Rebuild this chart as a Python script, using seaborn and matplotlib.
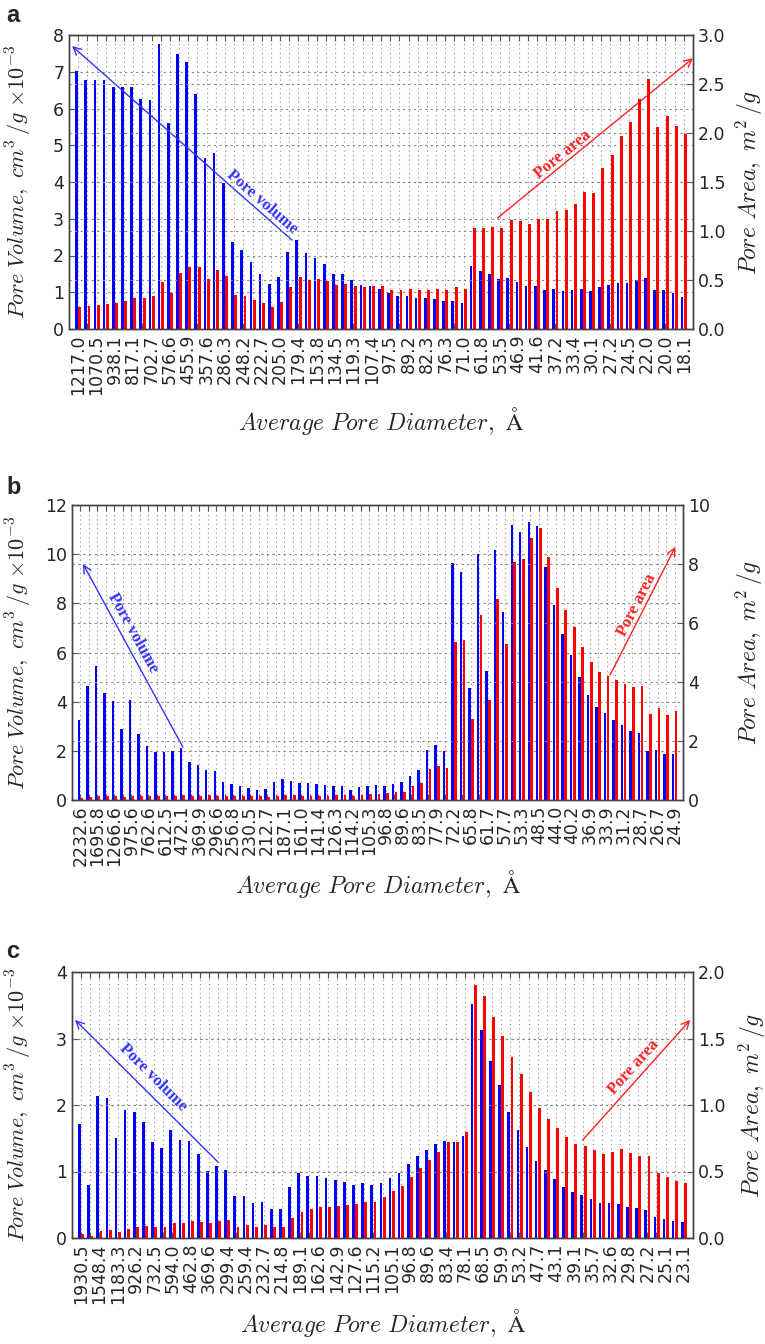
import numpy as np
import pandas as pd
import matplotlib
matplotlib.use("Agg")
import matplotlib.pyplot as plt
import seaborn as sns

# ---------------- data ----------------
a_labels = ["1217.0", "1070.5", "938.1", "817.1", "702.7", "576.6", "455.9", "357.6", "286.3",
            "248.2", "222.7", "205.0", "179.4", "153.8", "134.5", "119.3", "107.4", "97.5",
            "89.2", "82.3", "76.3", "71.0", "61.8", "53.5", "46.9", "41.6", "37.2", "33.4",
            "30.1", "27.2", "24.5", "22.0", "20.0", "18.1"]
a_volume = [7.03, 6.78, 6.78, 6.78, 6.58, 6.58, 6.58, 6.27, 6.23, 7.75, 5.61, 7.49, 7.27, 6.39,
            4.65, 4.78, 3.96, 2.36, 2.16, 1.81, 1.49, 1.22, 1.42, 2.10, 2.42, 2.07, 1.93, 1.77,
            1.51, 1.49, 1.32, 1.19, 1.17, 1.10,
            0.97, 0.91, 0.91, 0.85, 0.85, 0.81, 0.77, 0.77, 0.72, 1.71, 1.59, 1.49, 1.36, 1.40,
            1.27, 1.17, 1.17, 1.06, 1.10, 1.03, 1.06, 1.10, 1.03, 1.13, 1.20, 1.26, 1.26, 1.32,
            1.39, 1.06, 1.06, 0.97, 0.88]
a_area = [0.22, 0.23, 0.245, 0.26, 0.27, 0.29, 0.32, 0.32, 0.34, 0.48, 0.37, 0.57, 0.63, 0.63,
          0.51, 0.60, 0.54, 0.35, 0.34, 0.30, 0.27, 0.22, 0.28, 0.43, 0.53, 0.50, 0.51, 0.49,
          0.45, 0.46, 0.44, 0.43, 0.44, 0.435,
          0.40, 0.40, 0.41, 0.40, 0.40, 0.41, 0.40, 0.425, 0.41, 1.03, 1.03, 1.04, 1.03, 1.11,
          1.10, 1.07, 1.12, 1.12, 1.20, 1.21, 1.28, 1.40, 1.39, 1.64, 1.78, 1.97, 2.11, 2.35,
          2.55, 2.06, 2.17, 2.07, 1.99]

b_labels = ["2232.6", "1695.8", "1266.6", "975.6", "762.6", "612.5", "472.1", "369.9", "296.6",
            "256.8", "230.5", "212.7", "187.1", "161.0", "141.4", "126.3", "114.2", "105.3",
            "96.8", "89.6", "83.5", "77.9", "72.2", "65.8", "61.7", "57.7", "53.3", "48.5",
            "44.0", "40.2", "36.9", "33.9", "31.2", "28.7", "26.7", "24.9"]
b_volume = [3.25, 4.64, 5.46, 4.35, 4.03, 2.87, 4.08, 2.67, 2.20, 1.97, 1.94, 1.99, 2.13, 1.56,
            1.42, 1.23, 1.18, 0.75, 0.65, 0.56, 0.50, 0.41, 0.46, 0.73, 0.84, 0.79, 0.71, 0.69,
            0.65, 0.61, 0.57, 0.56, 0.41, 0.54, 0.57, 0.61,
            0.58, 0.65, 0.75, 0.99, 1.22, 2.05, 2.24, 1.99, 9.65, 9.27, 4.54, 9.99, 5.26, 10.18,
            7.66, 11.20, 10.90, 11.29, 11.16, 9.49, 7.92, 6.75, 5.90, 5.02, 4.28, 3.78, 3.54,
            3.25, 3.05, 2.82, 2.71, 1.99, 2.05, 1.86, 1.86]
b_area = [0.08, 0.10, 0.12, 0.12, 0.12, 0.11, 0.14, 0.13, 0.12, 0.13, 0.12, 0.14, 0.16, 0.15,
          0.15, 0.16, 0.15, 0.14, 0.13, 0.13, 0.12, 0.12, 0.11, 0.15, 0.16, 0.16, 0.15, 0.15,
          0.15, 0.15, 0.16, 0.16, 0.14, 0.17, 0.19, 0.20,
          0.23, 0.28, 0.28, 0.47, 0.59, 1.04, 1.15, 1.07, 5.36, 5.42, 2.74, 6.28, 3.40, 6.83,
          5.30, 8.06, 8.18, 8.87, 9.22, 8.24, 7.20, 6.43, 5.87, 5.19, 4.68, 4.35, 4.22, 4.06,
          3.93, 3.83, 3.86, 2.93, 3.13, 2.88, 3.01]

c_labels = ["1930.5", "1548.4", "1183.3", "926.2", "732.5", "594.0", "462.8", "369.6", "299.4",
            "259.4", "232.7", "214.8", "189.1", "162.6", "142.9", "127.6", "115.2", "105.1",
            "96.8", "89.6", "83.4", "78.1", "68.5", "59.9", "53.2", "47.7", "43.1", "39.1",
            "35.7", "32.6", "29.8", "27.2", "25.1", "23.1"]
c_volume = [1.71, 0.80, 2.13, 2.10, 1.50, 1.93, 1.89, 1.75, 1.45, 1.35, 1.62, 1.48, 1.46, 1.26,
            1.01, 1.09, 1.03, 0.63, 0.63, 0.53, 0.54, 0.43, 0.43, 0.76, 0.97, 0.93, 0.93, 0.90,
            0.87, 0.84, 0.80, 0.83, 0.79, 0.83, 0.90,
            0.97, 1.11, 1.24, 1.32, 1.42, 1.46, 1.45, 1.54, 3.52, 3.13, 2.66, 2.30, 1.90, 1.63,
            1.37, 1.16, 1.02, 0.89, 0.77, 0.69, 0.64, 0.58, 0.53, 0.53, 0.51, 0.47, 0.45, 0.42,
            0.32, 0.29, 0.26, 0.24]
c_area = [0.03, 0.013, 0.05, 0.06, 0.045, 0.07, 0.08, 0.09, 0.08, 0.08, 0.11, 0.11, 0.125,
          0.12, 0.11, 0.125, 0.135, 0.085, 0.095, 0.085, 0.095, 0.08, 0.08, 0.15, 0.195, 0.215,
          0.23, 0.23, 0.24, 0.25, 0.255, 0.27, 0.27,
          0.31, 0.35, 0.39, 0.46, 0.53, 0.59, 0.65, 0.72, 0.72, 0.80, 1.90, 1.82, 1.66, 1.52,
          1.36, 1.23, 1.10, 0.975, 0.895, 0.83, 0.76, 0.71, 0.69, 0.66, 0.63, 0.645, 0.67,
          0.64, 0.62, 0.62, 0.49, 0.46, 0.43, 0.41]

# ---------------- style ----------------
sns.set_theme(style="white")
plt.rcParams["font.family"] = ["DejaVu Sans"]
plt.rcParams["mathtext.fontset"] = "cm"

BLUE = "#0000ff"
RED = "#ff0000"
palette = {"Pore volume": BLUE, "Pore area": RED}
hue_order = ["Pore volume", "Pore area"]

fig = plt.figure(figsize=(7.65, 13.44), dpi=100)
W, H = 765.0, 1344.0

YLAB_L = r"$Pore\ Volume,\ cm^3\,/g\ {\times}10^{-3}$"
YLAB_R = r"$Pore\ Area,\ m^2\,/g$"
XLAB = r"$Average\ Pore\ Diameter,\ \mathrm{\AA}$"


def make_axes(left, top, right, bottom):
    return fig.add_axes([left / W, 1 - bottom / H, (right - left) / W, (bottom - top) / H])


def panel(ax, labels, vol, area, ylim_l, yticks_l, ylim_r, yticks_r, rfmt,
          ylab_x, ylab_rx, xlab_y, arrows):
    n = len(vol)
    idx = np.arange(n)
    dv = pd.DataFrame({"x": idx, "y": vol, "series": "Pore volume"})
    da = pd.DataFrame({"x": idx, "y": area, "series": "Pore area"})
    sns.barplot(data=dv, x="x", y="y", hue="series", hue_order=hue_order, palette=palette,
                dodge=True, width=0.72, gap=0.2, ax=ax, legend=False, saturation=1,
                linewidth=0)
    ax2 = ax.twinx()
    sns.barplot(data=da, x="x", y="y", hue="series", hue_order=hue_order, palette=palette,
                dodge=True, width=0.72, gap=0.12, ax=ax2, legend=False, saturation=1,
                linewidth=0)
    ax.set_xlim(-1, n)
    ax.set_ylim(*ylim_l)
    ax.set_yticks(yticks_l)
    ax.set_yticklabels([f"{t:g}" for t in yticks_l])
    ax2.set_ylim(*ylim_r)
    ax2.set_yticks(yticks_r)
    ax2.set_yticklabels([rfmt.format(t) for t in yticks_r])
    ax.set_xticks(idx)
    full = []
    for i in idx:
        full.append(labels[i // 2] if i % 2 == 0 else "")
    ax.set_xticklabels(full, rotation=90, fontsize=12.5)
    ax.tick_params(axis="x", direction="in", top=True, bottom=True, length=4, width=0.8,
                   color="#555555", pad=4)
    ax.tick_params(axis="y", direction="in", length=4, width=0.8, labelsize=12.5,
                   color="#555555")
    ax2.tick_params(axis="y", direction="in", length=4, width=0.8, labelsize=12.5,
                    color="#555555")
    # grids
    ax.set_axisbelow(True)
    ax.xaxis.grid(True, ls=(0, (1, 3)), color="#888888", lw=0.8)
    ax.yaxis.grid(True, ls=(0, (2, 3)), color="#888888", lw=0.8)
    ax2.yaxis.grid(True, ls=(0, (2, 3)), color="#888888", lw=0.8)
    ax2.set_axisbelow(True)
    for s in list(ax.spines.values()) + list(ax2.spines.values()):
        s.set_color("#444444")
        s.set_linewidth(1.0)
    ax.set_xlabel(XLAB, fontsize=17)
    ax.set_ylabel(YLAB_L, fontsize=16)
    ax2.set_ylabel(YLAB_R, fontsize=17, rotation=90)
    ax.yaxis.set_label_coords(ylab_x, 0.5)
    ax2.yaxis.set_label_coords(ylab_rx, 0.5)
    ax.xaxis.set_label_coords(0.5, xlab_y)
    for (tail, head, txt, tpos, rot, col) in arrows:
        ax.annotate("", xy=head, xytext=tail,
                    arrowprops=dict(arrowstyle="->", color=col, lw=1.0,
                                    shrinkA=0, shrinkB=0, mutation_scale=14),
                    zorder=10)
        ax.text(tpos[0], tpos[1], txt, rotation=rot, rotation_mode="anchor",
                ha="center", va="center", color=col, fontsize=12,
                family=["Liberation Serif"], fontweight="bold", zorder=10)
    return ax2


ARROW_BLUE = "#3333ff"
ARROW_RED = "#ff2020"

# panel a
axa = make_axes(69, 35, 693, 329)
panel(axa, a_labels, a_volume, a_area, (0, 8), list(range(0, 9)),
      (0, 3), [0, 0.5, 1.0, 1.5, 2.0, 2.5, 3.0], "{:.1f}",
      -0.056, 1.066, -0.258,
      [((23.3, 2.42), (-0.67, 7.7), "Pore volume", (20.0, 3.45), -41, ARROW_BLUE),
       ((45.7, 3.02), (67.0, 7.37), "Pore area", (52.8, 4.75), 39, ARROW_RED)])

# panel b
axb = make_axes(72, 505, 683, 800)
panel(axb, b_labels, b_volume, b_area, (0, 12), list(range(0, 13, 2)),
      (0, 10), [0, 2, 4, 6, 8, 10], "{:g}",
      -0.062, 1.084, -0.232,
      [((12.07, 2.15), (0.3, 9.6), "Pore volume", (6.2, 6.8), -61, ARROW_BLUE),
       ((62.4, 5.08), (70.1, 10.3), "Pore area", (65.6, 7.95), 63, ARROW_RED)])

# panel c
axc = make_axes(72, 972, 693, 1238)
panel(axc, c_labels, c_volume, c_area, (0, 4), [0, 1, 2, 3, 4],
      (0, 2), [0, 0.5, 1.0, 1.5, 2.0], "{:.1f}",
      -0.061, 1.070, -0.258,
      [((15.0, 1.14), (-0.67, 3.28), "Pore volume", (7.9, 2.42), -45, ARROW_BLUE),
       ((54.9, 1.47), (66.7, 3.28), "Pore area", (60.5, 2.57), 48, ARROW_RED)])

for lab, (px, py) in zip(["a", "b", "c"], [(6, 15), (6, 488), (6, 951)]):
    fig.text(px / W, 1 - py / H, lab, fontsize=17, fontweight="bold", ha="left",
             va="center", family=["Liberation Sans"])

fig.savefig("out.png", dpi=100)
